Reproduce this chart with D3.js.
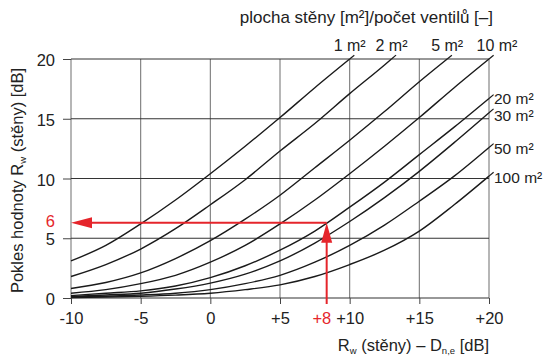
<!DOCTYPE html>
<html>
<head>
<meta charset="utf-8">
<script src="https://cdn.jsdelivr.net/npm/d3@7"></script>
<style>
    html, body { margin: 0; padding: 0; background: #fff; }
    svg text { font-family: "Liberation Sans", Arial, Helvetica, sans-serif; fill: #222; }
</style>
</head>
<body>
<svg id="chart" width="547" height="356"></svg>
<script>

// --- data ---
const xTicks = [-10, -5, 0, 5, 10, 15, 20];
const xTickLabels = ['-10', '-5', '0', '+5', '+10', '+15', '+20'];
const yTicks = [0, 5, 10, 15, 20];

// [Rw - Dn,e, decrease of Rw] per wall area
const curve1 = [[-10, 3.1], [-7.5, 4.4], [-5, 6.2], [-2.5, 8.2], [0, 10.4], [2.5, 12.7], [5, 15.1], [7.5, 17.6], [10, 20]];
const curve2 = [[-10, 1.8], [-7.5, 2.8], [-5, 4.1], [-2.5, 5.8], [0, 7.8], [2.5, 9.9], [5, 12.3], [7.5, 14.6], [10, 17.1], [12.5, 19.5], [13, 20]];
const curve5 = [[-10, 0.8], [-7.5, 1.3], [-5, 2.1], [-2.5, 3.3], [0, 4.8], [2.5, 6.6], [5, 8.6], [7.5, 10.9], [10, 13.2], [12.5, 15.6], [15, 18.1], [17, 20]];
const curve10 = [[-10, 0.4], [-7.5, 0.7], [-5, 1.2], [-2.5, 1.9], [0, 3.0], [2.5, 4.4], [5, 6.2], [7.5, 8.2], [10, 10.4], [12.5, 12.7], [15, 15.1], [17.5, 17.6], [20, 20]];
const curve20 = [[-10, 0.2], [-7.5, 0.4], [-5, 0.6], [-2.5, 1.0], [0, 1.7], [2.5, 2.7], [5, 4.0], [7.5, 5.6], [10, 7.6], [12.5, 9.7], [15, 12.0], [17.5, 14.3], [20, 16.7]];
const curve30 = [[-10, 0.12], [-7.5, 0.25], [-5, 0.4], [-2.5, 0.75], [0, 1.25], [2.5, 2.0], [5, 3.1], [7.5, 4.6], [10, 6.4], [12.5, 8.4], [15, 10.6], [17.5, 13.0], [20, 15.5]];
const curve50 = [[-10, 0.08], [-7.5, 0.15], [-5, 0.25], [-2.5, 0.4], [0, 0.7], [2.5, 1.2], [5, 1.9], [7.5, 3.0], [10, 4.4], [12.5, 6.1], [15, 8.1], [17.5, 10.2], [20, 12.6]];
const curve100 = [[-10, 0.04], [-7.5, 0.08], [-5, 0.14], [-2.5, 0.24], [0, 0.4], [2.5, 0.7], [5, 1.1], [7.5, 1.8], [10, 2.8], [12.5, 4.0], [15, 5.6], [17.5, 7.8], [20, 10.2]];

const topCurves = [curve1, curve2, curve5, curve10];
const topLabels = ['1 m²', '2 m²', '5 m²', '10 m²'];
const sideCurves = [curve20, curve30, curve50, curve100];
const sideLabels = ['20 m²', '30 m²', '50 m²', '100 m²'];

// example reading
const readX = 8.35;
const readY = 6.3;
const readXLabel = '+8';
const readYLabel = '6';


const svg = d3.select('#chart');
const plot = {left: 71, right: 489, top: 59, bottom: 298};
const red = '#e5252b';
const tickFont = 16.5;

const xScale = d3.scaleLinear().domain([-10, 20]).range([plot.left, plot.right]);
const yScale = d3.scaleLinear().domain([0, 20]).range([plot.bottom, plot.top]);

// grid
svg.append('g')
    .selectAll('line')
    .data(xTicks)
    .enter()
    .append('line')
    .attr('x1', d => xScale(d))
    .attr('x2', d => xScale(d))
    .attr('y1', plot.top)
    .attr('y2', plot.bottom)
    .attr('stroke', '#7a7a7a')
    .attr('stroke-width', 1.1);

svg.append('g')
    .selectAll('line')
    .data(yTicks)
    .enter()
    .append('line')
    .attr('x1', plot.left)
    .attr('x2', plot.right)
    .attr('y1', d => yScale(d))
    .attr('y2', d => yScale(d))
    .attr('stroke', '#333')
    .attr('stroke-width', 1.1);

// axes (ticks + labels only, the frame comes from the grid)
const xAxis = svg.append('g')
    .attr('transform', `translate(0, ${plot.bottom})`)
    .call(d3.axisBottom(xScale).tickValues(xTicks).tickSize(6).tickPadding(8)
        .tickFormat((d, i) => xTickLabels[i]));

const yAxis = svg.append('g')
    .attr('transform', `translate(${plot.left}, 0)`)
    .call(d3.axisLeft(yScale).tickValues(yTicks).tickSize(8).tickPadding(8));

[xAxis, yAxis].forEach(ax => {
    ax.select('.domain').remove();
    ax.selectAll('.tick line').attr('stroke', '#444');
    ax.selectAll('.tick text')
        .attr('font-size', tickFont)
        .attr('font-family', '"Liberation Sans", Arial, sans-serif')
        .attr('fill', '#222');
});
yAxis.selectAll('.tick text').attr('dy', '0.4em');

// curves
const line = d3.line()
    .x(d => xScale(d[0]))
    .y(d => yScale(d[1]))
    .curve(d3.curveMonotoneX);

const allCurves = topCurves.concat(sideCurves);

svg.append('g')
    .selectAll('path')
    .data(allCurves)
    .enter()
    .append('path')
    .attr('d', line)
    .attr('fill', 'none')
    .attr('stroke', '#1a1a1a')
    .attr('stroke-width', 1.4);

// little leaders beyond the frame
const leader = (c, len) => {
    const a = c[c.length - 2], b = c[c.length - 1];
    const x1 = xScale(b[0]), y1 = yScale(b[1]);
    const dx = x1 - xScale(a[0]), dy = y1 - yScale(a[1]);
    const n = Math.sqrt(dx * dx + dy * dy);
    return [x1, y1, x1 + dx / n * len, y1 + dy / n * len];
};

svg.append('g')
    .selectAll('line')
    .data(allCurves)
    .enter()
    .append('line')
    .each(function(c) {
        const [x1, y1, x2, y2] = leader(c, 6);
        d3.select(this).attr('x1', x1).attr('y1', y1).attr('x2', x2).attr('y2', y2);
    })
    .attr('stroke', '#1a1a1a')
    .attr('stroke-width', 1.2);

// curve labels
svg.append('g')
    .selectAll('text')
    .data(topCurves)
    .enter()
    .append('text')
    .attr('x', (c, i) => xScale(c[c.length - 1][0]) + (i === topCurves.length - 1 ? 8 : 0))
    .attr('y', 51)
    .attr('text-anchor', 'middle')
    .attr('font-size', 16)
    .text((_, i) => topLabels[i]);

svg.append('g')
    .selectAll('text')
    .data(sideCurves)
    .enter()
    .append('text')
    .attr('x', 494)
    .attr('y', (c, i) => yScale(c[c.length - 1][1]) + (i === 0 ? 6 : i === 1 ? 8 : 7))
    .attr('font-size', 15.5)
    .text((_, i) => sideLabels[i]);

// titles
svg.append('text')
    .attr('x', 493)
    .attr('y', 23)
    .attr('text-anchor', 'end')
    .attr('font-size', 17)
    .text('plocha stěny [m²]/počet ventilů [–]');

const xTitle = svg.append('text')
    .attr('x', 489)
    .attr('y', 351)
    .attr('text-anchor', 'end')
    .attr('font-size', 16.5);
xTitle.append('tspan').text('R');
xTitle.append('tspan').attr('font-size', 9.5).attr('dy', 3).text('w');
xTitle.append('tspan').attr('dy', -3).text(' (stěny) – D');
xTitle.append('tspan').attr('font-size', 9.5).attr('dy', 3).text('n,e');
xTitle.append('tspan').attr('dy', -3).text(' [dB]');

const yTitle = svg.append('text')
    .attr('transform', `translate(23, ${(plot.top + plot.bottom) / 2 + 2}) rotate(-90)`)
    .attr('text-anchor', 'middle')
    .attr('font-size', 16.5);
yTitle.append('tspan').text('Pokles hodnoty R');
yTitle.append('tspan').attr('font-size', 9.5).attr('dy', 3).text('w');
yTitle.append('tspan').attr('dy', -3).text(' (stěny) [dB]');

// red reading arrows
const ann = svg.append('g');
const ax = xScale(readX), ay = yScale(readY);

ann.append('line')
    .attr('x1', ax).attr('y1', plot.bottom + 6)
    .attr('x2', ax).attr('y2', ay + 18)
    .attr('stroke', red).attr('stroke-width', 2);
ann.append('path')
    .attr('d', `M${ax},${ay} L${ax - 5.5},${ay + 20} L${ax + 5.5},${ay + 20} Z`)
    .attr('fill', red);

ann.append('line')
    .attr('x1', ax).attr('y1', ay)
    .attr('x2', plot.left + 18).attr('y2', ay)
    .attr('stroke', red).attr('stroke-width', 2);
ann.append('path')
    .attr('d', `M${plot.left},${ay} L${plot.left + 21},${ay - 5.5} L${plot.left + 21},${ay + 5.5} Z`)
    .attr('fill', red);

ann.append('text')
    .attr('x', xScale(8))
    .attr('y', plot.bottom + 14)
    .attr('dy', '0.71em')
    .attr('text-anchor', 'middle')
    .attr('font-size', tickFont)
    .style('fill', red)
    .text(readXLabel);

ann.append('text')
    .attr('x', plot.left - 16)
    .attr('y', ay + 4)
    .attr('text-anchor', 'end')
    .attr('font-size', tickFont)
    .style('fill', red)
    .text(readYLabel);

</script>
</body>
</html>
